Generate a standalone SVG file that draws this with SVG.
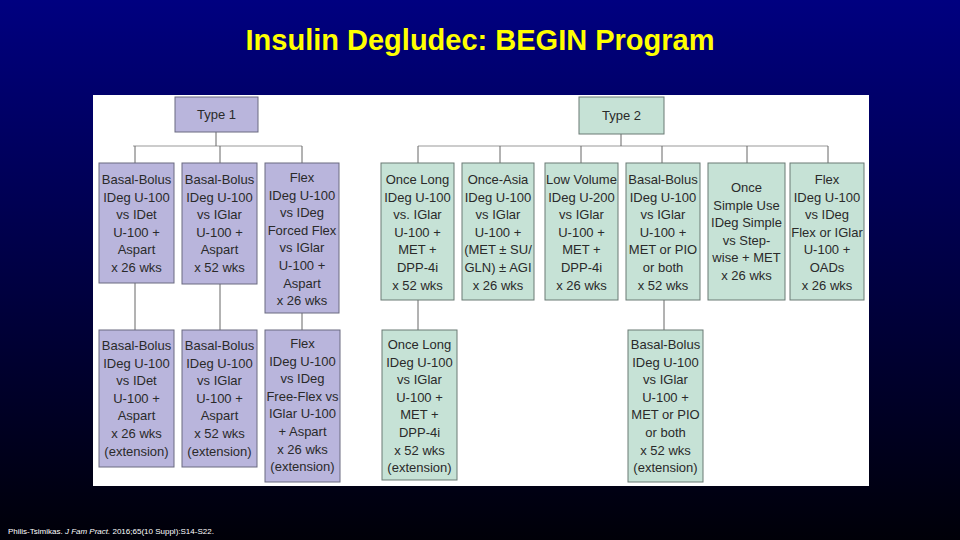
<svg xmlns="http://www.w3.org/2000/svg" width="960" height="540" viewBox="0 0 960 540">
<defs>
<linearGradient id="bg" x1="0" y1="0" x2="0" y2="1">
<stop offset="0" stop-color="#000080"/><stop offset="1" stop-color="#000008"/>
</linearGradient>
<style>
.t1{fill:#b9b5dc;stroke:#6a6a80;stroke-width:1}
.t2{fill:#c6e2d6;stroke:#6a7a74;stroke-width:1}
.tx{font-family:"Liberation Sans",Arial,sans-serif;font-size:13px;fill:#2a2a2a;text-anchor:middle}
.ln{stroke:#666;stroke-width:1;fill:none}
.ln2{stroke:#ccc;stroke-width:2;fill:none}
</style>
</defs>
<rect width="960" height="540" fill="url(#bg)"/>
<text x="480" y="50" text-anchor="middle" font-family="Liberation Sans,Arial,sans-serif" font-weight="bold" font-size="29" fill="#ffff00">Insulin Degludec: BEGIN Program</text>
<rect x="93" y="95" width="776" height="391" fill="#fff"/>
<g id="connectors">
<path class="ln2" d="M133 146H302M418 146H828"/>
<path class="ln" d="M216 132V146M135 146V163M220 146V163M302 146V163M135 283V330M220 284V330M302 313V330"/>
<path class="ln" d="M621 134V146M418 146V163M500 146V163M581 146V163M662 146V163M747 146V163M828 146V163M418 300V330M664 300V330"/>
</g>
<g id="type1"><rect class="t1" x="175" y="97" width="83" height="35"/><text class="tx" x="216.5" y="119">Type 1</text></g>
<g id="type2"><rect class="t2" x="579" y="97" width="85" height="37"/><text class="tx" x="621.5" y="120">Type 2</text></g>
<g id="a1"><rect class="t1" x="99" y="163" width="75" height="120"/><text class="tx" x="136.5" y="184"><tspan x="136.5">Basal-Bolus</tspan><tspan x="136.5" dy="17.6">IDeg U-100</tspan><tspan x="136.5" dy="17.6">vs IDet</tspan><tspan x="136.5" dy="17.6">U-100 +</tspan><tspan x="136.5" dy="17.6">Aspart</tspan><tspan x="136.5" dy="17.6">x 26 wks</tspan></text></g>
<g id="a2"><rect class="t1" x="182" y="163" width="75" height="121"/><text class="tx" x="219.5" y="184"><tspan x="219.5">Basal-Bolus</tspan><tspan x="219.5" dy="17.6">IDeg U-100</tspan><tspan x="219.5" dy="17.6">vs IGlar</tspan><tspan x="219.5" dy="17.6">U-100 +</tspan><tspan x="219.5" dy="17.6">Aspart</tspan><tspan x="219.5" dy="17.6">x 52 wks</tspan></text></g>
<g id="a3"><rect class="t1" x="265" y="163" width="74" height="150"/><text class="tx" x="302" y="182"><tspan x="302">Flex</tspan><tspan x="302" dy="17.6">IDeg U-100</tspan><tspan x="302" dy="17.6">vs IDeg</tspan><tspan x="302" dy="17.6">Forced Flex</tspan><tspan x="302" dy="17.6">vs IGlar</tspan><tspan x="302" dy="17.6">U-100 +</tspan><tspan x="302" dy="17.6">Aspart</tspan><tspan x="302" dy="17.6">x 26 wks</tspan></text></g>
<g id="b1"><rect class="t1" x="99" y="330" width="75" height="137"/><text class="tx" x="136.5" y="350"><tspan x="136.5">Basal-Bolus</tspan><tspan x="136.5" dy="17.6">IDeg U-100</tspan><tspan x="136.5" dy="17.6">vs IDet</tspan><tspan x="136.5" dy="17.6">U-100 +</tspan><tspan x="136.5" dy="17.6">Aspart</tspan><tspan x="136.5" dy="17.6">x 26 wks</tspan><tspan x="136.5" dy="17.6">(extension)</tspan></text></g>
<g id="b2"><rect class="t1" x="182" y="330" width="75" height="137"/><text class="tx" x="219.5" y="350"><tspan x="219.5">Basal-Bolus</tspan><tspan x="219.5" dy="17.6">IDeg U-100</tspan><tspan x="219.5" dy="17.6">vs IGlar</tspan><tspan x="219.5" dy="17.6">U-100 +</tspan><tspan x="219.5" dy="17.6">Aspart</tspan><tspan x="219.5" dy="17.6">x 52 wks</tspan><tspan x="219.5" dy="17.6">(extension)</tspan></text></g>
<g id="b3"><rect class="t1" x="265" y="330" width="75" height="152"/><text class="tx" x="302.5" y="348"><tspan x="302.5">Flex</tspan><tspan x="302.5" dy="17.6">IDeg U-100</tspan><tspan x="302.5" dy="17.6">vs IDeg</tspan><tspan x="302.5" dy="17.6">Free-Flex vs</tspan><tspan x="302.5" dy="17.6">IGlar U-100</tspan><tspan x="302.5" dy="17.6">+ Aspart</tspan><tspan x="302.5" dy="17.6">x 26 wks</tspan><tspan x="302.5" dy="17.6">(extension)</tspan></text></g>
<g id="c1"><rect class="t2" x="381" y="163" width="73" height="137"/><text class="tx" x="417.5" y="184"><tspan x="417.5">Once Long</tspan><tspan x="417.5" dy="17.6">IDeg U-100</tspan><tspan x="417.5" dy="17.6">vs. IGlar</tspan><tspan x="417.5" dy="17.6">U-100 +</tspan><tspan x="417.5" dy="17.6">MET +</tspan><tspan x="417.5" dy="17.6">DPP-4i</tspan><tspan x="417.5" dy="17.6">x 52 wks</tspan></text></g>
<g id="c2"><rect class="t2" x="462" y="163" width="72" height="137"/><text class="tx" x="498" y="184"><tspan x="498">Once-Asia</tspan><tspan x="498" dy="17.6">IDeg U-100</tspan><tspan x="498" dy="17.6">vs IGlar</tspan><tspan x="498" dy="17.6">U-100 +</tspan><tspan x="498" dy="17.6">(MET ± SU/</tspan><tspan x="498" dy="17.6">GLN) ± AGI</tspan><tspan x="498" dy="17.6">x 26 wks</tspan></text></g>
<g id="c3"><rect class="t2" x="545" y="163" width="73" height="137"/><text class="tx" x="581.5" y="184"><tspan x="581.5">Low Volume</tspan><tspan x="581.5" dy="17.6">IDeg U-200</tspan><tspan x="581.5" dy="17.6">vs IGlar</tspan><tspan x="581.5" dy="17.6">U-100 +</tspan><tspan x="581.5" dy="17.6">MET +</tspan><tspan x="581.5" dy="17.6">DPP-4i</tspan><tspan x="581.5" dy="17.6">x 26 wks</tspan></text></g>
<g id="c4"><rect class="t2" x="626" y="163" width="74" height="137"/><text class="tx" x="663" y="184"><tspan x="663">Basal-Bolus</tspan><tspan x="663" dy="17.6">IDeg U-100</tspan><tspan x="663" dy="17.6">vs IGlar</tspan><tspan x="663" dy="17.6">U-100 +</tspan><tspan x="663" dy="17.6">MET or PIO</tspan><tspan x="663" dy="17.6">or both</tspan><tspan x="663" dy="17.6">x 52 wks</tspan></text></g>
<g id="c5"><rect class="t2" x="708" y="163" width="77" height="137"/><text class="tx" x="746.5" y="192"><tspan x="746.5">Once</tspan><tspan x="746.5" dy="17.6">Simple Use</tspan><tspan x="746.5" dy="17.6">IDeg Simple</tspan><tspan x="746.5" dy="17.6">vs Step-</tspan><tspan x="746.5" dy="17.6">wise + MET</tspan><tspan x="746.5" dy="17.6">x 26 wks</tspan></text></g>
<g id="c6"><rect class="t2" x="790" y="163" width="74" height="137"/><text class="tx" x="827" y="184"><tspan x="827">Flex</tspan><tspan x="827" dy="17.6">IDeg U-100</tspan><tspan x="827" dy="17.6">vs IDeg</tspan><tspan x="827" dy="17.6">Flex or IGlar</tspan><tspan x="827" dy="17.6">U-100 +</tspan><tspan x="827" dy="17.6">OADs</tspan><tspan x="827" dy="17.6">x 26 wks</tspan></text></g>
<g id="d1"><rect class="t2" x="382" y="330" width="75" height="150"/><text class="tx" x="419.5" y="349"><tspan x="419.5">Once Long</tspan><tspan x="419.5" dy="17.6">IDeg U-100</tspan><tspan x="419.5" dy="17.6">vs IGlar</tspan><tspan x="419.5" dy="17.6">U-100 +</tspan><tspan x="419.5" dy="17.6">MET +</tspan><tspan x="419.5" dy="17.6">DPP-4i</tspan><tspan x="419.5" dy="17.6">x 52 wks</tspan><tspan x="419.5" dy="17.6">(extension)</tspan></text></g>
<g id="d2"><rect class="t2" x="628" y="330" width="75" height="152"/><text class="tx" x="665.5" y="349"><tspan x="665.5">Basal-Bolus</tspan><tspan x="665.5" dy="17.6">IDeg U-100</tspan><tspan x="665.5" dy="17.6">vs IGlar</tspan><tspan x="665.5" dy="17.6">U-100 +</tspan><tspan x="665.5" dy="17.6">MET or PIO</tspan><tspan x="665.5" dy="17.6">or both</tspan><tspan x="665.5" dy="17.6">x 52 wks</tspan><tspan x="665.5" dy="17.6">(extension)</tspan></text></g>
<text x="8" y="534" font-family="Liberation Sans,Arial,sans-serif" font-size="8" fill="#fff">Philis-Tsimikas. <tspan font-style="italic">J Fam Pract.</tspan> 2016;65(10 Suppl):S14-S22.</text>
</svg>
